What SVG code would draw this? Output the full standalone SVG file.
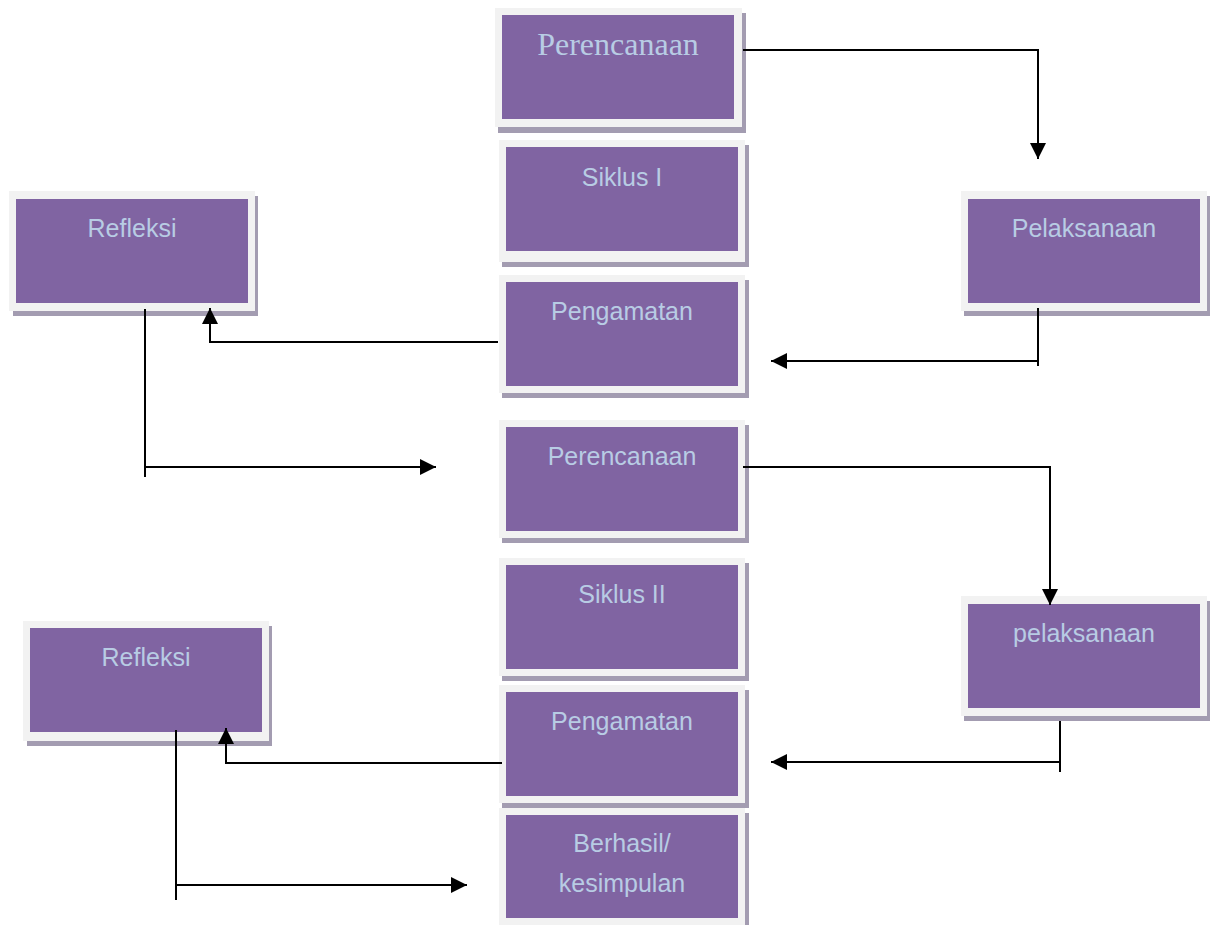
<svg xmlns="http://www.w3.org/2000/svg" width="1210" height="925" viewBox="0 0 1210 925">
<style>
.sh{fill:#a39cb1}
.fr{fill:#f2f2f2}
.bx{fill:#8064a2}
.t{font-family:"Liberation Sans",Arial,sans-serif;font-size:25px;fill:#b8cce4;text-anchor:middle}
.ts{font-family:"Liberation Serif","Times New Roman",serif;font-size:32px;fill:#b8cce4;text-anchor:middle}
.ln{fill:none;stroke:#000;stroke-width:2}
</style>
<defs>
<marker id="ah" markerUnits="userSpaceOnUse" markerWidth="16" markerHeight="16" viewBox="0 0 14 14" refX="14" refY="7" orient="auto">
<path d="M0,0 L14,7 L0,14 Z" fill="#000"/>
</marker>
</defs>

<g id="perencanaan1">
<rect class="sh" x="498" y="13" width="248" height="120"/>
<rect class="fr" x="495" y="8" width="247" height="119"/>
<rect class="bx" x="502" y="15" width="232" height="104"/>
<text class="ts" x="618" y="55">Perencanaan</text>
</g>
<g id="siklus1">
<rect class="sh" x="502" y="145" width="247" height="122"/>
<rect class="fr" x="499" y="140" width="246" height="122"/>
<rect class="bx" x="506" y="147" width="232" height="104"/>
<text class="t" x="622" y="186">Siklus I</text>
</g>
<g id="refleksi1">
<rect class="sh" x="13" y="196" width="245" height="120"/>
<rect class="fr" x="9" y="191" width="246" height="120"/>
<rect class="bx" x="16" y="199" width="232" height="104"/>
<text class="t" x="132" y="237">Refleksi</text>
</g>
<g id="pelaksanaan1">
<rect class="sh" x="964" y="196" width="246" height="120"/>
<rect class="fr" x="961" y="191" width="246" height="120"/>
<rect class="bx" x="968" y="199" width="232" height="104"/>
<text class="t" x="1084" y="237">Pelaksanaan</text>
</g>
<g id="pengamatan1">
<rect class="sh" x="502" y="280" width="247" height="118"/>
<rect class="fr" x="499" y="275" width="246" height="118"/>
<rect class="bx" x="506" y="282" width="232" height="104"/>
<text class="t" x="622" y="320">Pengamatan</text>
</g>
<g id="perencanaan2">
<rect class="sh" x="502" y="425" width="247" height="118"/>
<rect class="fr" x="499" y="420" width="246" height="118"/>
<rect class="bx" x="506" y="427" width="232" height="104"/>
<text class="t" x="622" y="465">Perencanaan</text>
</g>
<g id="siklus2">
<rect class="sh" x="502" y="563" width="247" height="118"/>
<rect class="fr" x="499" y="558" width="246" height="118"/>
<rect class="bx" x="506" y="565" width="232" height="104"/>
<text class="t" x="622" y="603">Siklus II</text>
</g>
<g id="refleksi2">
<rect class="sh" x="27" y="626" width="245" height="120"/>
<rect class="fr" x="23" y="621" width="246" height="120"/>
<rect class="bx" x="30" y="628" width="232" height="104"/>
<text class="t" x="146" y="666">Refleksi</text>
</g>
<g id="pelaksanaan2">
<rect class="sh" x="964" y="601" width="246" height="120"/>
<rect class="fr" x="961" y="596" width="246" height="120"/>
<rect class="bx" x="968" y="604" width="232" height="104"/>
<text class="t" x="1084" y="642">pelaksanaan</text>
</g>
<g id="pengamatan2">
<rect class="sh" x="502" y="690" width="247" height="118"/>
<rect class="fr" x="499" y="685" width="246" height="118"/>
<rect class="bx" x="506" y="692" width="232" height="104"/>
<text class="t" x="622" y="730">Pengamatan</text>
</g>
<g id="berhasil">
<rect class="sh" x="502" y="813" width="247" height="118"/>
<rect class="fr" x="499" y="808" width="246" height="118"/>
<rect class="bx" x="506" y="815" width="232" height="103"/>
<text class="t" x="622" y="852">Berhasil/</text>
<text class="t" x="622" y="892">kesimpulan</text>
</g>

<g id="connectors">
<path class="ln" d="M743,50 H1038 V159" marker-end="url(#ah)"/>
<path class="ln" d="M1038,308 V366"/>
<path class="ln" d="M1038,361 H771" marker-end="url(#ah)"/>
<path class="ln" d="M498,342 H210 V308" marker-end="url(#ah)"/>
<path class="ln" d="M145,309 V477"/>
<path class="ln" d="M145,467 H436" marker-end="url(#ah)"/>
<path class="ln" d="M743,467 H1050 V605" marker-end="url(#ah)"/>
<path class="ln" d="M1060,721 V772"/>
<path class="ln" d="M1060,762 H771" marker-end="url(#ah)"/>
<path class="ln" d="M502,763 H226 V728" marker-end="url(#ah)"/>
<path class="ln" d="M176,730 V900"/>
<path class="ln" d="M176,885 H467" marker-end="url(#ah)"/>
</g>
</svg>
